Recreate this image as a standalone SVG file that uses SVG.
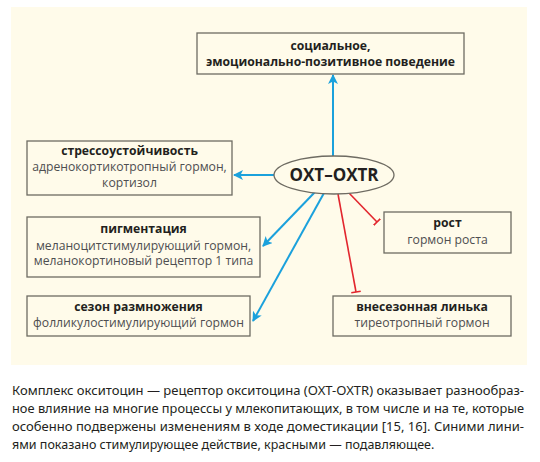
<svg xmlns="http://www.w3.org/2000/svg" width="540" height="462" viewBox="0 0 540 462">
<defs>
<style>
.box{fill:#fffbea;stroke:#6e6b62;stroke-width:1.3}
.t{font-family:"Open Sans","Noto Sans","Liberation Sans",sans-serif;font-size:12.2px;font-weight:700;fill:#231f20;text-anchor:middle}
.s{font-family:"Open Sans","Noto Sans","Liberation Sans",sans-serif;font-size:12.2px;fill:#4e4e50;text-anchor:middle}
.blue{stroke:#1ba1dc;stroke-width:2;fill:none}
.red{stroke:#e2262e;stroke-width:1.6;fill:none}
.cap{font-family:"Noto Sans","Open Sans","Liberation Sans",sans-serif;font-size:12.5px;fill:#231f20}
</style>
<marker id="ah" viewBox="0 0 10 10" refX="9" refY="5" markerWidth="5" markerHeight="5" orient="auto" markerUnits="strokeWidth">
<path d="M0,0 L10,5 L0,10 L2.5,5 Z" fill="#1ba1dc"/>
</marker>
<marker id="tb" viewBox="0 0 10 10" refX="5" refY="5" markerWidth="6" markerHeight="6" orient="auto" markerUnits="strokeWidth">
<path d="M5,0 L5,10" stroke="#e2262e" stroke-width="1.6"/>
</marker>
</defs>
<rect x="0" y="0" width="540" height="462" fill="#ffffff"/>
<rect x="11" y="7" width="516" height="358" fill="#fffbea"/>
<g id="connectors">
<line class="blue" x1="333" y1="156" x2="333" y2="75" marker-end="url(#ah)"/>
<line class="blue" x1="274" y1="175" x2="234" y2="175" marker-end="url(#ah)"/>
<line class="blue" x1="315" y1="192" x2="263" y2="246" marker-end="url(#ah)"/>
<line class="blue" x1="324" y1="193" x2="253" y2="321" marker-end="url(#ah)"/>
<line class="red" x1="349" y1="193" x2="377" y2="222" marker-end="url(#tb)"/>
<line class="red" x1="338" y1="194" x2="356" y2="292" marker-end="url(#tb)"/>
</g>
<g id="social">
<rect class="box" x="197" y="33" width="267" height="41"/>
<text class="t" x="330.5" y="50">социальное,</text>
<text class="t" x="330.5" y="65.5">эмоционально-позитивное поведение</text>
</g>
<g id="stress">
<rect class="box" x="27" y="141" width="205" height="54"/>
<text class="t" x="129.5" y="155">стрессоустойчивость</text>
<text class="s" x="129.5" y="171">адренокортикотропный гормон,</text>
<text class="s" x="129.5" y="187">кортизол</text>
</g>
<g id="oxt">
<ellipse cx="334" cy="175" rx="60" ry="19" fill="#fffbea" stroke="#6e6b62" stroke-width="1.3"/>
<text x="334" y="181" font-family="'Open Sans','Noto Sans','Liberation Sans',sans-serif" font-size="17" font-weight="700" fill="#231f20" text-anchor="middle">OXT–OXTR</text>
</g>
<g id="pigment">
<rect class="box" x="27" y="217" width="233" height="60"/>
<text class="t" x="143.5" y="233">пигментация</text>
<text class="s" x="143.5" y="249.5">меланоцитстимулирующий гормон,</text>
<text class="s" x="143.5" y="265">меланокортиновый рецептор 1 типа</text>
</g>
<g id="season">
<rect class="box" x="27" y="296" width="223" height="40"/>
<text class="t" x="138.5" y="310.5">сезон размножения</text>
<text class="s" x="138.5" y="327">фолликулостимулирующий гормон</text>
</g>
<g id="growth">
<rect class="box" x="384" y="212" width="127" height="41"/>
<text class="t" x="447.5" y="226.5">рост</text>
<text class="s" x="447.5" y="244">гормон роста</text>
</g>
<g id="molt">
<rect class="box" x="333" y="296" width="178" height="40"/>
<text class="t" x="422" y="310.5">внесезонная линька</text>
<text class="s" x="422" y="327">тиреотропный гормон</text>
</g>
<g id="caption">
<text class="cap" x="12" y="395" textLength="512" lengthAdjust="spacingAndGlyphs">Комплекс окситоцин — рецептор окситоцина (OXT-OXTR) оказывает разнообраз-</text>
<text class="cap" x="12" y="413" textLength="512" lengthAdjust="spacingAndGlyphs">ное влияние на многие процессы у млекопитающих, в том числе и на те, которые</text>
<text class="cap" x="12" y="431" textLength="512" lengthAdjust="spacingAndGlyphs">особенно подвержены изменениям в ходе доместикации [15, 16]. Синими лини-</text>
<text class="cap" x="12" y="449">ями показано стимулирующее действие, красными — подавляющее.</text>
</g>
</svg>
